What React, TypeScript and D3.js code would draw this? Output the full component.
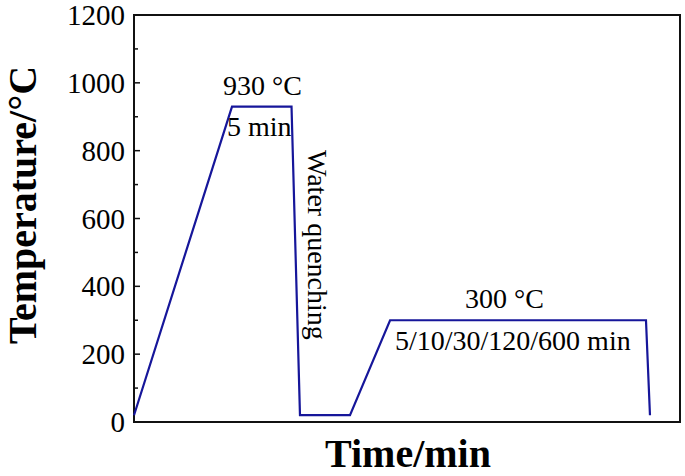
import React from "react";
import * as d3 from "d3";

const timePoints = [0, 17.95, 28.85, 30.4, 39.56, 46.9, 93.77, 94.5];
const tempPoints = [20, 930, 930, 20, 20, 300, 300, 20];
const yTicks = [0, 200, 400, 600, 800, 1000, 1200];
const yMinorTicks = [100, 300, 500, 700, 900, 1100];
const annotations = [
  { text: "930 °C", x: 223, y: 95 },
  { text: "5 min", x: 227, y: 136 },
  { text: "300 °C", x: 465, y: 308 },
  { text: "5/10/30/120/600 min", x: 395, y: 350 },
];

const W = 685;
const H = 476;
const left = 134;
const right = 680;
const top = 15;
const bottom = 422;
const FONT = "'Liberation Serif', 'Times New Roman', serif";

export default function App() {
  const x = d3.scaleLinear().domain([0, 100]).range([left, right]);
  const y = d3.scaleLinear().domain([0, 1200]).range([bottom, top]);
  const pts: [number, number][] = timePoints.map((t, i) => [t, tempPoints[i]]);
  const line = d3
    .line<[number, number]>()
    .x((d) => x(d[0]))
    .y((d) => y(d[1]));

  return (
    <svg
      width={W}
      height={H}
      style={{ position: "absolute", left: 0, top: 0, display: "block", background: "#fff" }}
    >
      <rect x={0} y={0} width={W} height={H} fill="#fff" />
      <rect
        x={left}
        y={top}
        width={right - left}
        height={bottom - top}
        fill="none"
        stroke="#111"
        strokeWidth={2}
      />
      {yTicks.map((t) => (
        <g key={"t" + t}>
          <line x1={left} x2={left + 6} y1={y(t)} y2={y(t)} stroke="#111" strokeWidth={1.5} />
          <text
            x={125}
            y={y(t)}
            textAnchor="end"
            dominantBaseline="central"
            fontFamily={FONT}
            fontSize={29}
            fill="#000"
          >
            {t}
          </text>
        </g>
      ))}
      {yMinorTicks.map((t) => (
        <line key={"m" + t} x1={left} x2={left + 4} y1={y(t)} y2={y(t)} stroke="#111" strokeWidth={1.5} />
      ))}
      <path d={line(pts) || ""} fill="none" stroke="#16169a" strokeWidth={2.2} strokeLinejoin="miter" />
      {annotations.map((a) => (
        <text key={a.text} x={a.x} y={a.y} fontFamily={FONT} fontSize={28} fill="#000">
          {a.text}
        </text>
      ))}
      <text
        transform="translate(308,150) rotate(90)"
        fontFamily={FONT}
        fontSize={28}
        fill="#000"
      >
        Water quenching
      </text>
      <text
        transform="translate(36,205) rotate(-90)"
        textAnchor="middle"
        fontFamily={FONT}
        fontWeight="bold"
        fontSize={40}
        fill="#000"
      >
        Temperature/°C
      </text>
      <text
        x={408}
        y={467}
        textAnchor="middle"
        fontFamily={FONT}
        fontWeight="bold"
        fontSize={40}
        fill="#000"
      >
        Time/min
      </text>
    </svg>
  );
}
